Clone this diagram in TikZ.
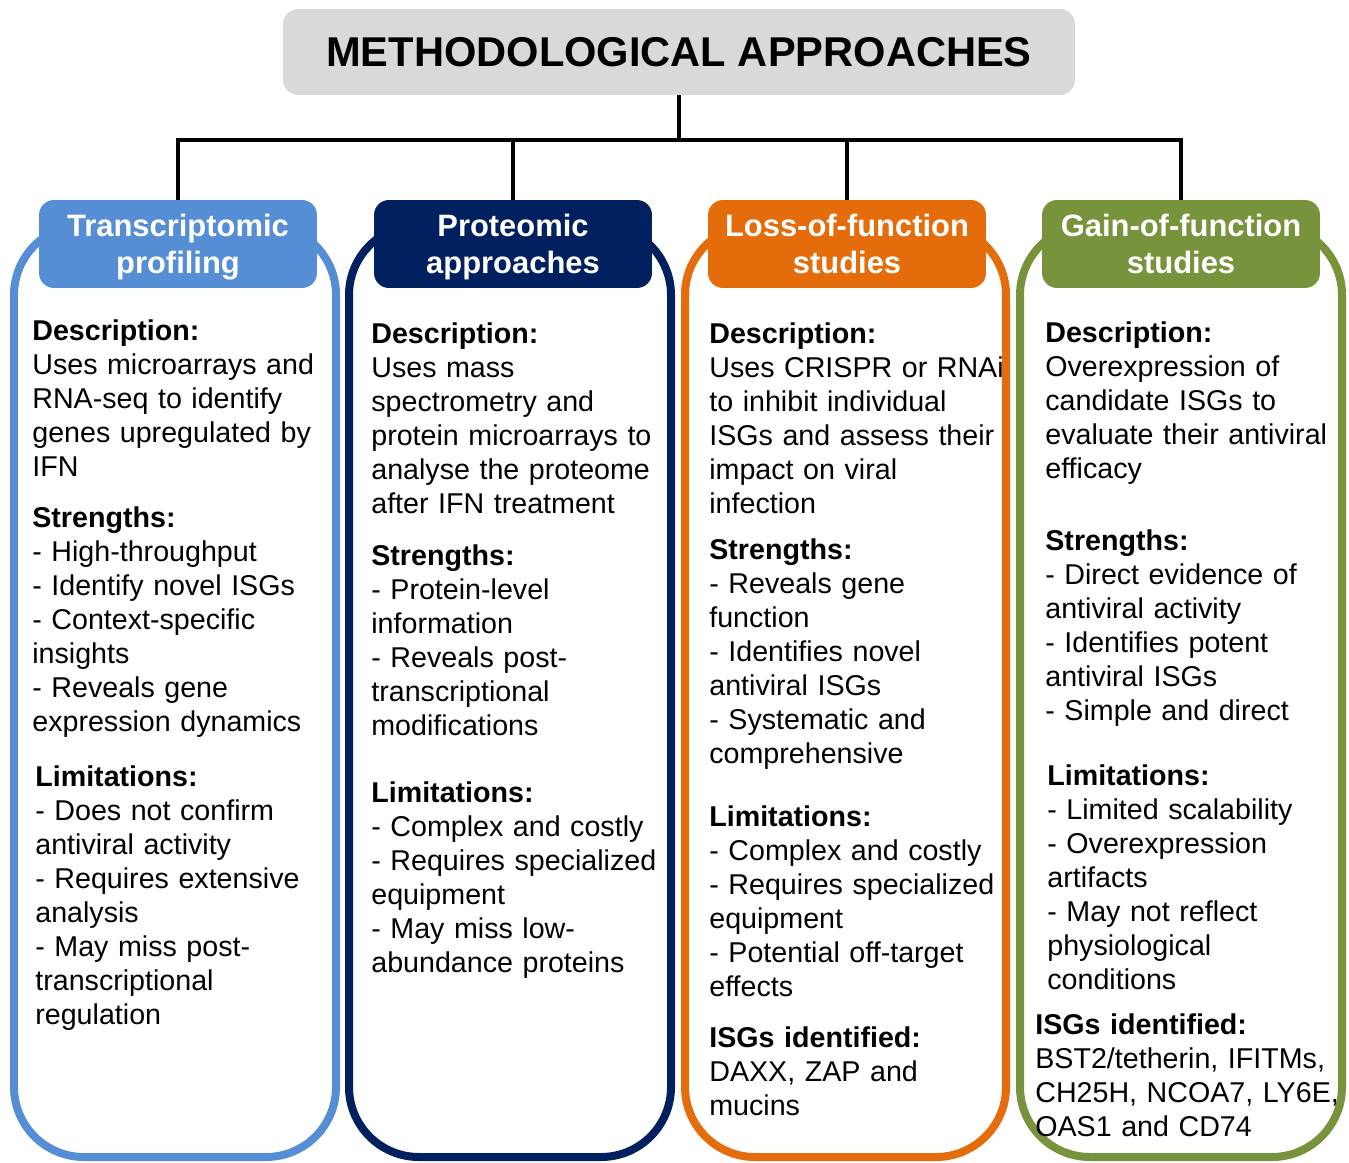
\documentclass[tikz,border=0pt]{standalone}
\usepackage{fontspec}
\setmainfont{Liberation Sans}

\definecolor{trblue}{HTML}{558ED5}
\definecolor{prnavy}{HTML}{002060}
\definecolor{lforange}{HTML}{E46C0A}
\definecolor{gfgreen}{HTML}{77933C}
\definecolor{titlegray}{HTML}{D9D9D9}

\begin{document}
\begin{tikzpicture}[x=0.02cm, y=-0.02cm,
    panel/.style={line width=0.16cm, rounded corners=1.4cm},
    head/.style={fill=#1, rounded corners=0.3cm, minimum width=5.56cm, minimum height=1.76cm,
                 align=center, text=white, inner sep=0pt, text depth=0pt,
                 font=\bfseries\fontsize{17.6}{21}\selectfont},
    body/.style={anchor=base west, inner sep=0pt, text width=6.6cm, align=left,
                 font=\fontsize{16.3}{19.4}\selectfont},
    link/.style={line width=0.085cm}]
    \useasboundingbox (0,0) rectangle (1349,1163);
    %\draw[help lines] (0,0) grid[step=100] (1349,1163);

    % outlines behind the coloured heads
    \draw[panel, trblue  ] (14,225)   rectangle (336,1157);
    \draw[panel, prnavy  ] (349,225)  rectangle (671,1157);
    \draw[panel, lforange] (685,225)  rectangle (1006,1157);
    \draw[panel, gfgreen ] (1020,225) rectangle (1342,1157);

    \node[fill=titlegray, rounded corners=0.3cm, minimum width=15.84cm, minimum height=1.72cm,
          text depth=0pt, font=\bfseries\fontsize{23.7}{28}\selectfont] (title) at (679,52) {METHODOLOGICAL APPROACHES};

    \node[head=trblue  ] (h1) at (178,244)  {Transcriptomic\\profiling};
    \node[head=prnavy  ] (h2) at (513,244)  {Proteomic\\approaches};
    \node[head=lforange] (h3) at (847,244)  {Loss-of-function\\studies};
    \node[head=gfgreen ] (h4) at (1181,244) {Gain-of-function\\studies};

    \coordinate (bus) at (679,140);
    \draw[link] (title.south) -- (bus);
    \foreach \i in {1,...,4}
        \draw[link] (h\i.north) |- (bus);

    % transcriptomic profiling
    \node[body] (d1) at (32,340) {\textbf{Description:}\\Uses microarrays and\\RNA-seq to identify\\genes upregulated by\\IFN};
    \node[body] (s1) at (32,527) {\textbf{Strengths:}\\- High-throughput\\- Identify novel ISGs\\- Context-specific\\insights\\- Reveals gene\\expression dynamics};
    \node[body] (l1) at (35,786) {\textbf{Limitations:}\\- Does not confirm\\antiviral activity\\- Requires extensive\\analysis\\- May miss post-\\transcriptional\\regulation};

    % proteomic approaches
    \node[body] (d2) at (371,343) {\textbf{Description:}\\Uses mass\\spectrometry and\\protein microarrays to\\analyse the proteome\\after IFN treatment};
    \node[body] (s2) at (371,565) {\textbf{Strengths:}\\- Protein-level\\information\\- Reveals post-\\transcriptional\\modifications};
    \node[body] (l2) at (371,802) {\textbf{Limitations:}\\- Complex and costly\\- Requires specialized\\equipment\\- May miss low-\\abundance proteins};

    % loss-of-function studies
    \node[body] (d3) at (709,343) {\textbf{Description:}\\Uses CRISPR or RNAi\\to inhibit individual\\ISGs and assess their\\impact on viral\\infection};
    \node[body] (s3) at (709,559) {\textbf{Strengths:}\\- Reveals gene\\function\\- Identifies novel\\antiviral ISGs\\- Systematic and\\comprehensive};
    \node[body] (l3) at (709,826) {\textbf{Limitations:}\\- Complex and costly\\- Requires specialized\\equipment\\- Potential off-target\\effects};
    \node[body] (i3) at (709,1047) {\textbf{ISGs identified:}\\DAXX, ZAP and\\mucins};

    % gain-of-function studies
    \node[body] (d4) at (1045,342) {\textbf{Description:}\\Overexpression of\\candidate ISGs to\\evaluate their antiviral\\efficacy};
    \node[body] (s4) at (1045,550) {\textbf{Strengths:}\\- Direct evidence of\\antiviral activity\\- Identifies potent\\antiviral ISGs\\- Simple and direct};
    \node[body] (l4) at (1047,785) {\textbf{Limitations:}\\- Limited scalability\\- Overexpression\\artifacts\\- May not reflect\\physiological\\conditions};
    \node[body] (i4) at (1035,1034) {\textbf{ISGs identified:}\\BST2/tetherin, IFITMs,\\CH25H, NCOA7, LY6E,\\OAS1 and CD74};
\end{tikzpicture}
\end{document}
